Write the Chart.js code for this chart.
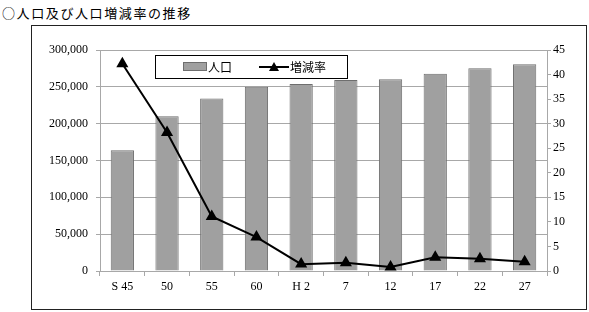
<!DOCTYPE html>
<html>
<head>
<meta charset="utf-8">
<script src="https://cdn.jsdelivr.net/npm/chart.js@4"></script>
<style>
    body { margin: 0; background: #fff; }
    #wrap { position: relative; width: 589px; height: 312px; }
    #title { position: absolute; left: 2px; top: 3px; font: 13px 'Noto Sans CJK JP'; letter-spacing: 1.6px; color: #000; }
    #frame { position: absolute; left: 31px; top: 25px; width: 554px; height: 283px; border: 1px solid #222; }
    canvas { position: absolute; left: 0; top: 0; }
</style>
</head>
<body>
<div id="wrap">
    <div id="title">○人口及び人口増減率の推移</div>
    <div id="frame"></div>
    <canvas id="popChart" width="589" height="312"></canvas>
</div>
<script>
// Census years (Showa / Heisei)
const years = ['S 45', '50', '55', '60', 'H 2', '7', '12', '17', '22', '27'];
// Population (left axis)
const population = [164000, 210000, 234000, 250000, 253800, 259300, 260200, 267900, 275100, 280500];
// Rate of change, % (right axis)
const changeRate = [42.2, 28.2, 11.1, 6.9, 1.4, 1.7, 0.8, 2.8, 2.5, 1.9];

const barFill = '#a0a0a0';
const barEdge = '#6e6e6e';
const gridGray = '#a8a8a8';
const tickFont = { family: "'Liberation Serif', 'DejaVu Serif', serif", size: 12 };

// Boxed legend drawn inside the plot, like the original spreadsheet chart
const legendBox = {
    id: 'legendBox',
    afterDraw: function(chart) {
        const ctx = chart.ctx;
        const ds = chart.data.datasets;
        ctx.save();
        ctx.strokeStyle = '#000';
        ctx.lineWidth = 1;
        ctx.strokeRect(155.5, 55.5, 192, 23);

        ctx.fillStyle = barFill;
        ctx.fillRect(183, 62, 24, 9);
        ctx.strokeStyle = barEdge;
        ctx.strokeRect(183.5, 62.5, 23, 8);

        ctx.fillStyle = '#000';
        ctx.font = "12px 'Noto Sans CJK JP'";
        ctx.textBaseline = 'middle';
        ctx.fillText(ds[1].label, 208, 67);

        ctx.strokeStyle = '#000';
        ctx.lineWidth = 2;
        ctx.beginPath();
        ctx.moveTo(259, 67);
        ctx.lineTo(289, 67);
        ctx.stroke();
        ctx.beginPath();
        ctx.moveTo(274, 62);
        ctx.lineTo(279, 71);
        ctx.lineTo(269, 71);
        ctx.closePath();
        ctx.fill();

        ctx.fillText(ds[0].label, 290, 67);
        ctx.restore();
    }
};

const popChart = new Chart(document.getElementById('popChart'), {
    type: 'bar',
    data: {
        labels: years,
        datasets: [{
            type: 'line',
            label: '増減率',
            data: changeRate,
            yAxisID: 'y1',
            borderColor: '#000',
            backgroundColor: '#000',
            borderWidth: 2,
            pointStyle: 'triangle',
            pointRadius: 5,
            pointBackgroundColor: '#000',
            tension: 0,
            order: 0
        }, {
            label: '人口',
            data: population,
            yAxisID: 'y',
            backgroundColor: barFill,
            borderColor: barEdge,
            borderWidth: 1,
            categoryPercentage: 1,
            barPercentage: 0.52,
            order: 1
        }]
    },
    options: {
        responsive: false,
        animation: false,
        layout: { padding: { top: 50, left: 0, right: 0, bottom: 0 } },
        plugins: {
            legend: { display: false },
            tooltip: { enabled: false }
        },
        scales: {
            x: {
                grid: {
                    offset: true,
                    drawOnChartArea: false,
                    tickLength: 5,
                    color: gridGray
                },
                border: { color: gridGray },
                ticks: { color: '#000', font: tickFont, padding: 4, maxRotation: 0 },
                afterFit: function(scale) { scale.height = 41; }
            },
            y: {
                position: 'left',
                min: 0,
                max: 300000,
                grid: { color: gridGray, tickLength: 4 },
                border: { color: gridGray },
                ticks: {
                    stepSize: 50000,
                    color: '#000',
                    font: tickFont,
                    padding: 8,
                    callback: function(v) { return v.toLocaleString('en-US'); }
                },
                afterFit: function(scale) { scale.width = 100; }
            },
            y1: {
                position: 'right',
                min: 0,
                max: 45,
                grid: { drawOnChartArea: false, color: gridGray, tickLength: 4 },
                border: { color: gridGray },
                ticks: { stepSize: 5, color: '#000', font: tickFont, padding: 2 },
                afterFit: function(scale) { scale.width = 42; }
            }
        }
    },
    plugins: [legendBox]
});
</script>
</body>
</html>
